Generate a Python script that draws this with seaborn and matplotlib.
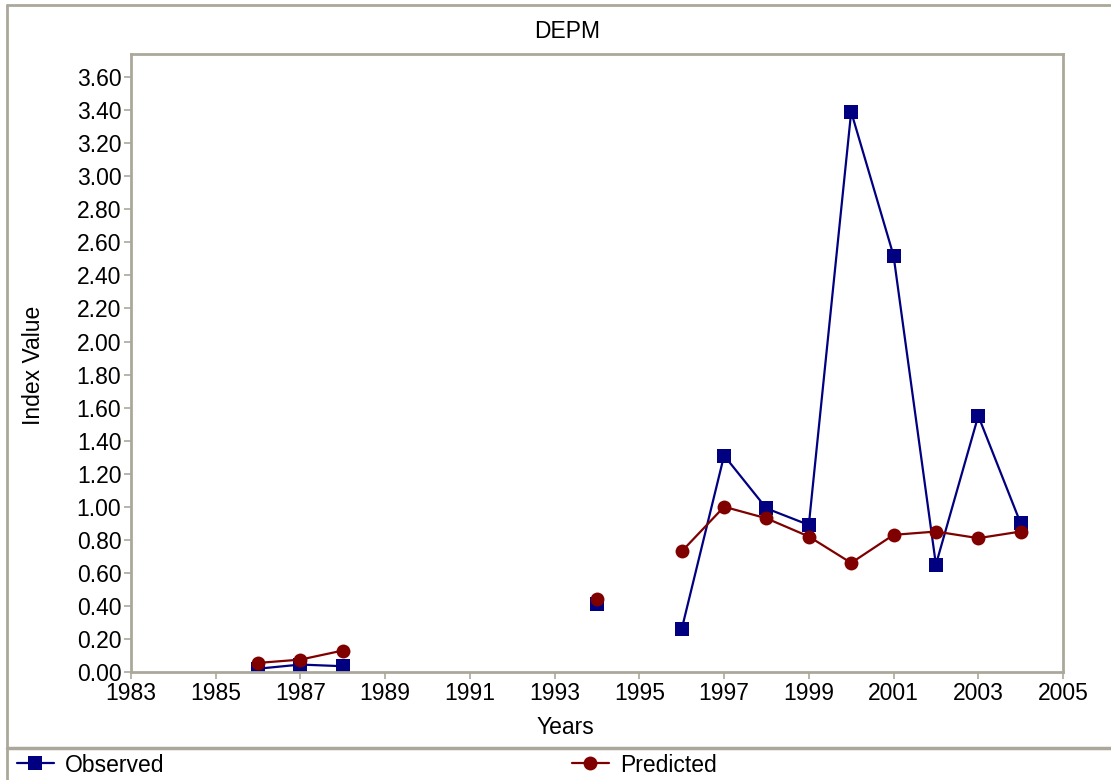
import numpy as np
import pandas as pd
import matplotlib
matplotlib.use("Agg")
import matplotlib.pyplot as plt
import seaborn as sns
from matplotlib.lines import Line2D
from matplotlib.ticker import FormatStrFormatter

# ---- data ----
years = [1986, 1987, 1988, 1994, 1996, 1997, 1998, 1999, 2000, 2001, 2002, 2003, 2004]
segments = [1, 1, 1, 2, 3, 3, 3, 3, 3, 3, 3, 3, 3]
observed = [0.02, 0.045, 0.035, 0.41, 0.26, 1.31, 0.99, 0.89, 3.39, 2.52, 0.65, 1.55, 0.90]
predicted = [0.055, 0.075, 0.13, 0.44, 0.73, 1.00, 0.93, 0.82, 0.66, 0.83, 0.85, 0.81, 0.85]
x_ticks = list(range(1983, 2006, 2))
y_ticks = [round(0.2 * i, 2) for i in range(19)]

title = "DEPM"
x_label = "Years"
y_label = "Index Value"

obs_color = "#000080"
pred_color = "#800000"
frame_color = "#aba89b"

sns.set_theme(style="white")
plt.rcParams['font.family'] = ['Liberation Sans', 'DejaVu Sans']
plt.rcParams['text.color'] = 'black'
plt.rcParams['axes.labelcolor'] = 'black'
plt.rcParams['xtick.color'] = 'black'
plt.rcParams['ytick.color'] = 'black'
FS = 16.5

df = pd.DataFrame({"year": years * 2,
                   "value": observed + predicted,
                   "series": ["Observed"] * len(years) + ["Predicted"] * len(years),
                   "segment": segments * 2})

W, H = 1111, 780
fig = plt.figure(figsize=(W / 100, H / 100), dpi=100)
ax = fig.add_axes([131 / W, 1 - 672 / H, (1063 - 131) / W, (672 - 54) / H])

sns.lineplot(data=df, x="year", y="value", hue="series", style="series",
             units="segment", estimator=None,
             palette={"Observed": obs_color, "Predicted": pred_color},
             markers={"Observed": "s", "Predicted": "o"}, dashes=False,
             markersize=10, markeredgewidth=0, linewidth=1.6,
             ax=ax, legend=False)

ax.set_xlim(1983, 2005)
ax.set_ylim(0, 3.74)
ax.set_xticks(x_ticks)
ax.set_yticks(y_ticks)
ax.yaxis.set_major_formatter(FormatStrFormatter("%.2f"))
ax.tick_params(axis="both", direction="out", length=5, width=1.2,
               color=frame_color, labelsize=FS, labelcolor="black", pad=2,
               bottom=True, left=True)
ax.set_xlabel("")
ax.set_ylabel("")
for s in ax.spines.values():
    s.set_color(frame_color)
    s.set_linewidth(2)

fig.text(567 / W, 1 - 31 / H, title, ha="center", va="center", fontsize=FS, color="black")
fig.text(565 / W, 1 - 727 / H, x_label, ha="center", va="center", fontsize=FS, color="black")
fig.text(33 / W, 1 - 365 / H, y_label, ha="center", va="center", rotation=90,
         fontsize=FS, color="black")

# outer frame and legend separator
fig.add_artist(Line2D([7 / W, 7 / W], [0, 1 - 5 / H], transform=fig.transFigure,
                      color=frame_color, lw=2))
fig.add_artist(Line2D([7 / W, 1], [1 - 5 / H, 1 - 5 / H], transform=fig.transFigure,
                      color=frame_color, lw=2))
fig.add_artist(Line2D([7 / W, 1], [1 - 748 / H, 1 - 748 / H], transform=fig.transFigure,
                      color=frame_color, lw=2.5))

h_obs = Line2D([], [], color=obs_color, marker="s", markersize=10, markeredgewidth=0, lw=1.6)
h_pred = Line2D([], [], color=pred_color, marker="o", markersize=10, markeredgewidth=0, lw=1.6)
leg_kw = dict(loc="center left", frameon=False, fontsize=FS, handlelength=1.6,
              handletextpad=0.5, borderpad=0, borderaxespad=0, labelcolor="black")
fig.legend([h_obs], ["Observed"], bbox_to_anchor=(17 / W, 1 - 765 / H), **leg_kw)
fig.legend([h_pred], ["Predicted"], bbox_to_anchor=(572 / W, 1 - 765 / H), **leg_kw)

fig.savefig("out.png", dpi=100, facecolor="white")
